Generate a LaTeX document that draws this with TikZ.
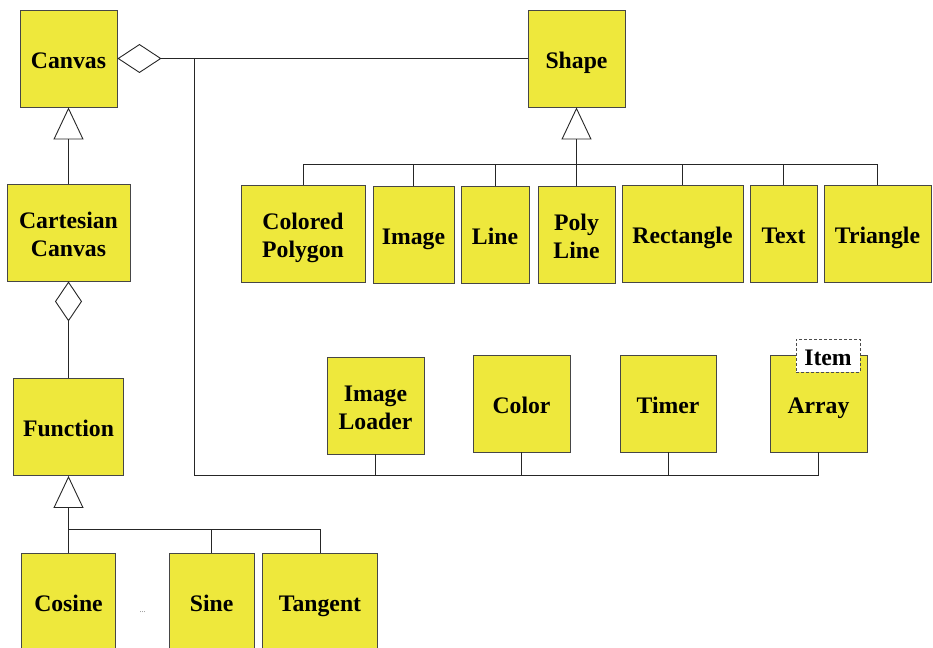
\documentclass[tikz,border=0pt]{standalone}
\usepackage{fontspec}
\setmainfont{Liberation Serif}
\usetikzlibrary{arrows.meta}
\definecolor{boxfill}{RGB}{238,232,60}
\definecolor{boxline}{RGB}{70,70,70}
\begin{document}
\begin{tikzpicture}[x=1pt,y=-1pt,
  cls/.style={draw=boxline, fill=boxfill, line width=0.9pt, inner sep=0pt, align=center,
    font=\bfseries\fontsize{23.7}{28}\selectfont, text height=19.5pt, text depth=0pt},
  two/.style={text height=47.5pt, text depth=0pt},
  wh/.style 2 args={minimum width=#1pt, minimum height=#2pt},
  conn/.style={line width=0.9pt, draw=black!85},
  gen/.style={conn, -{Triangle[open,length=32pt,width=30pt]}},
  tmpl/.style={draw=black!70, dash pattern=on 3pt off 2pt, fill=white, line width=0.9pt,
    inner sep=0pt, font=\bfseries\fontsize{23.7}{28}\selectfont, text height=19.5pt, text depth=0pt}
]
\useasboundingbox (0,0) rectangle (933,647);
\clip (0,0) rectangle (933,647);

% left column
\node[cls, wh={97}{97}] (canvas) at (68.5,58.5) {Canvas};
\node[cls, two, wh={123}{97}] (cart) at (68.5,232.5) {Cartesian\\Canvas};
\node[cls, wh={110}{97}] (func) at (68.5,427) {Function};
\node[cls, wh={94}{97}] (cosine) at (68.5,602.2) {Cosine};
\node[cls, wh={85}{97}] (sine) at (211.7,602.2) {Sine};
\node[cls, wh={115}{97}] (tangent) at (320,602.2) {Tangent};
\node[font=\fontsize{8}{8}\selectfont, text=black!60] (dots) at (142.7,612) {...};

% shape hierarchy
\node[cls, wh={97}{97}] (shape) at (576.5,58.5) {Shape};
\node[cls, two, wh={124}{97}] (cpoly) at (303,233.5) {Colored\\Polygon};
\node[cls, wh={81}{97}] (image) at (413.5,234.5) {Image};
\node[cls, wh={68}{97}] (line) at (495,234.5) {Line};
\node[cls, two, wh={77}{97}] (pline) at (576.5,234.5) {Poly\\Line};
\node[cls, wh={121}{97}] (rect) at (682.5,233.5) {Rectangle};
\node[cls, wh={67}{97}] (text) at (783.5,233.5) {Text};
\node[cls, wh={107}{97}] (tri) at (877.5,233.5) {Triangle};

% bottom row
\node[cls, two, wh={97}{97}] (imgl) at (375.5,405.5) {Image\\Loader};
\node[cls, wh={97}{97}] (color) at (521.5,403.5) {Color};
\node[cls, wh={96}{97}] (timer) at (668,403.5) {Timer};
\node[cls, wh={97}{97}] (array) at (818.5,403.5) {Array};
\node[tmpl, wh={64}{33}] (item) at (828,355.5) {Item};

% Canvas -- Shape aggregation
\draw[conn, {Diamond[open,length=44pt,width=29pt]}-] (canvas.east) -- (shape.west);
\coordinate (j1) at (194.3,58.5);
\coordinate (bbus) at (194.3,475);
\draw[conn] (j1) -- (bbus) -- (bbus -| array.south) -- (array.south);
\draw[conn] (imgl.south) -- (imgl.south |- bbus);
\draw[conn] (color.south) -- (color.south |- bbus);
\draw[conn] (timer.south) -- (timer.south |- bbus);

% Shape generalisation
\coordinate (sbus) at (576.5,164);
\draw[gen] (sbus) -- (shape.south);
\draw[conn] (cpoly.north) -- (cpoly.north |- sbus) -- (tri.north |- sbus) -- (tri.north);
\draw[conn] (image.north) -- (image.north |- sbus);
\draw[conn] (line.north) -- (line.north |- sbus);
\draw[conn] (pline.north) -- (pline.north |- sbus);
\draw[conn] (rect.north) -- (rect.north |- sbus);
\draw[conn] (text.north) -- (text.north |- sbus);

% left column connectors
\draw[gen] (cart.north) -- (canvas.south);
\draw[conn, {Diamond[open,length=40pt,width=27pt]}-] (cart.south) -- (func.north);
\coordinate (fbus) at (68.5,529.5);
\draw[gen] (fbus) -- (func.south);
\draw[conn] (cosine.north) -- (fbus) -- (fbus -| tangent.north) -- (tangent.north);
\draw[conn] (sine.north) -- (sine.north |- fbus);
\end{tikzpicture}
\end{document}
